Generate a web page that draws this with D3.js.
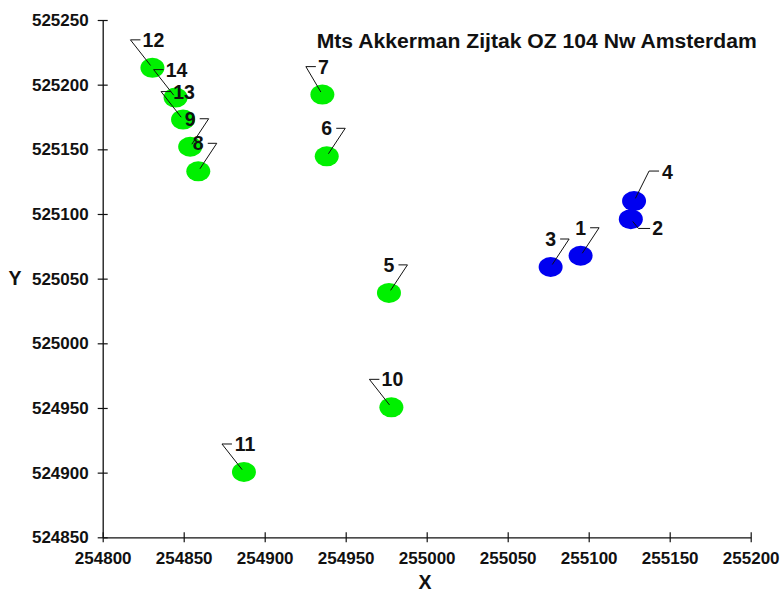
<!DOCTYPE html>
<html>
<head>
<meta charset="utf-8">
<script src="https://cdn.jsdelivr.net/npm/d3@7"></script>
<style>
  html, body { margin: 0; padding: 0; background: #fff; }
  svg { display: block; font-family: "Liberation Sans", Arial, sans-serif; }
</style>
</head>
<body>
<svg id="chart" width="780" height="592"></svg>
<script>
// ---- data ----
const pointLabels = ["1","2","3","4","5","6","7","8","9","10","11","12","13","14"];
const xValues = [255095, 255126, 255076.5, 255128, 254976.7, 254938.3, 254935.6, 254859, 254854, 254978.2, 254887.2, 254830.7, 254849.6, 254845];
const yValues = [525067.7, 525096, 525059, 525110, 525039, 525144.6, 525192.3, 525133, 525152, 524950.5, 524900.5, 525213, 525173, 525190];
const pointGroup = ["blue","blue","blue","blue","green","green","green","green","green","green","green","green","green","green"];
// label placement style: L = leader from left, R = leader from right, U = up-right, D = down-right
const labelStyle = ["R","D","R","U","R","R","L","R","R","L","L","L","L","L"];
const xTicks = [254800, 254850, 254900, 254950, 255000, 255050, 255100, 255150, 255200];
const yTicks = [524850, 524900, 524950, 525000, 525050, 525100, 525150, 525200, 525250];
const titleText = "Mts Akkerman Zijtak OZ 104 Nw Amsterdam";
const xTitle = "X";
const yTitle = "Y";

// ---- layout ----
const svg = d3.select("#chart");
const x = d3.scaleLinear().domain([254800, 255200]).range([102.7, 750.7]);
const y = d3.scaleLinear().domain([524850, 525250]).range([537.3, 20]);
const colors = { blue: "#0000f0", green: "#00f000" };
const font = "'Liberation Sans', Arial, sans-serif";

// axes
const gx = svg.append("g").attr("transform", `translate(0,${y(524850)})`)
  .call(d3.axisBottom(x).tickValues(xTicks).tickFormat(d3.format("d")).tickSize(5).tickSizeOuter(0).tickPadding(10));
gx.selectAll(".tick line").attr("y1", -5).attr("y2", 5);
const gy = svg.append("g").attr("transform", `translate(${x(254800)},0)`)
  .call(d3.axisLeft(y).tickValues(yTicks).tickFormat(d3.format("d")).tickSize(5).tickSizeOuter(0).tickPadding(9));
gy.selectAll(".tick line").attr("x1", -5).attr("x2", 5);
[gx, gy].forEach(g => {
  g.select(".domain").attr("stroke", "#111").attr("stroke-width", 1.3);
  g.selectAll(".tick line").attr("stroke", "#111").attr("stroke-width", 1.2);
  g.selectAll(".tick text").attr("fill", "#111").attr("font-family", font)
    .attr("font-weight", "bold").attr("font-size", "17px");
});

// title and axis titles
svg.append("text").attr("x", 316.7).attr("y", 47.7).text(titleText)
  .attr("font-family", font).attr("font-weight", "bold").attr("font-size", "19.5px")
  .attr("fill", "#111").attr("textLength", 440).attr("lengthAdjust", "spacingAndGlyphs");
svg.append("text").attr("x", 15).attr("y", 285).attr("text-anchor", "middle").text(yTitle)
  .attr("font-family", font).attr("font-weight", "bold").attr("font-size", "19.5px").attr("fill", "#111");
svg.append("text").attr("x", 425).attr("y", 589).attr("text-anchor", "middle").text(xTitle)
  .attr("font-family", font).attr("font-weight", "bold").attr("font-size", "19.5px").attr("fill", "#111");

// points
const pts = pointLabels.map((lab, i) => ({ lab, cx: x(xValues[i]), cy: y(yValues[i]), g: pointGroup[i], s: labelStyle[i] }));
svg.append("g").selectAll("ellipse").data(pts).join("ellipse")
  .attr("cx", d => d.cx).attr("cy", d => d.cy).attr("rx", 12).attr("ry", 10)
  .attr("fill", d => colors[d.g]);

// labels with leader lines
const lblG = svg.append("g");
pts.forEach(d => {
  const w = d.lab.length * 11;
  let bend, hEnd, tx, ty, anchor;
  if (d.s === "L") {
    const left = 1 - w / 2;
    hEnd = [left - 2, -28]; bend = [left - 12, -28];
    tx = 1; ty = -28; anchor = "middle";
  } else if (d.s === "R") {
    const right = w / 2;
    hEnd = [right + 4, -28]; bend = [right + 13, -28];
    tx = 0; ty = -28; anchor = "middle";
  } else if (d.s === "U") {
    bend = [15, -30]; hEnd = [25, -30];
    tx = 28; ty = -29; anchor = "start";
  } else {
    bend = [7.6, 9.3]; hEnd = [19.3, 9.3];
    tx = 21.5; ty = 9.3; anchor = "start";
  }
  const dx = bend[0], dy = bend[1], len = Math.hypot(dx, dy);
  const sx = d.cx + dx / len * 3, sy = d.cy + dy / len * 3;
  const path = d3.path();
  path.moveTo(sx, sy);
  path.lineTo(d.cx + bend[0], d.cy + bend[1]);
  path.lineTo(d.cx + hEnd[0], d.cy + hEnd[1]);
  lblG.append("path").attr("d", path.toString()).attr("fill", "none")
    .attr("stroke", "#111").attr("stroke-width", 1);
  lblG.append("text").attr("x", d.cx + tx).attr("y", d.cy + ty).attr("dy", "0.36em")
    .attr("text-anchor", anchor).text(d.lab)
    .attr("font-family", font).attr("font-weight", "bold").attr("font-size", "19.5px").attr("fill", "#111");
});
</script>
</body>
</html>
